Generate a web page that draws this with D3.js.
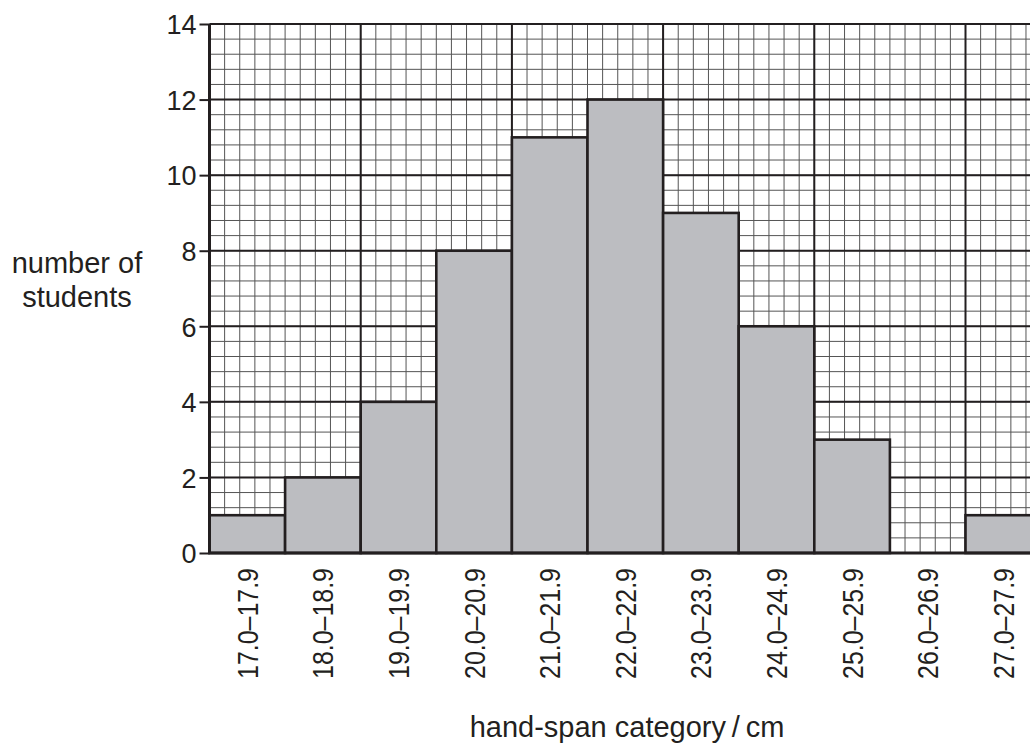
<!DOCTYPE html>
<html><head><meta charset="utf-8">
<script src="https://cdn.jsdelivr.net/npm/d3@7"></script>
<style>
html,body{margin:0;padding:0;background:#fff;overflow:hidden;}
text{font-family:"Liberation Sans",Arial,sans-serif;fill:#231f20;}
</style></head>
<body>
<svg id="chart" width="1030" height="743"></svg>
<script>
const categories = ["17.0–17.9","18.0–18.9","19.0–19.9","20.0–20.9","21.0–21.9","22.0–22.9","23.0–23.9","24.0–24.9","25.0–25.9","26.0–26.9","27.0–27.9"];
const lowerBounds = [17,18,19,20,21,22,23,24,25,26,27];
const counts = [1,2,4,8,11,12,9,6,3,0,1];
const yTicks = [0,2,4,6,8,10,12,14];
const yTitle = ["number of","students"];
const xTitle = "hand-span category\u2009/\u2009cm";

const svg = d3.select("#chart");
const x = d3.scaleLinear().domain([17,28]).range([209.5, 209.5+11*75.6]);
const y = d3.scaleLinear().domain([0,14]).range([553,24]);
const ink = "#231f20";

// grid
const g = svg.append("g");
const xMinor = d3.range(0, 56).map(i => 17 + i*0.2);
const yMinor = d3.range(0, 36).map(i => i*0.4);
g.selectAll("line.vx").data(xMinor).join("line")
  .attr("x1", d=>x(d)).attr("x2", d=>x(d)).attr("y1", y(14)).attr("y2", y(0))
  .attr("stroke", "#555").attr("stroke-width", 1);
g.selectAll("line.hy").data(yMinor).join("line")
  .attr("x1", x(17)).attr("x2", x(28)).attr("y1", d=>y(d)).attr("y2", d=>y(d))
  .attr("stroke", "#555").attr("stroke-width", 1);
const xMajor = [17,19,21,23,25,27];
g.selectAll("line.vmaj").data(xMajor).join("line")
  .attr("x1", d=>x(d)).attr("x2", d=>x(d)).attr("y1", y(14)).attr("y2", y(0))
  .attr("stroke", ink).attr("stroke-width", 2);
g.selectAll("line.hmaj").data(yTicks).join("line")
  .attr("x1", x(17)).attr("x2", x(28)).attr("y1", d=>y(d)).attr("y2", d=>y(d))
  .attr("stroke", ink).attr("stroke-width", 2);

// bars
svg.append("g").selectAll("rect").data(counts.map((c,i)=>({c, lo: lowerBounds[i]})).filter(d=>d.c>0)).join("rect")
  .attr("x", d=>x(d.lo)).attr("width", d=>x(d.lo+1)-x(d.lo))
  .attr("y", d=>y(d.c)).attr("height", d=>y(0)-y(d.c))
  .attr("fill", "#bcbdc1").attr("stroke", ink).attr("stroke-width", 2.6);

// axes
const yAxis = d3.axisLeft(y).tickValues(yTicks).tickSize(10).tickPadding(4).tickFormat(d3.format("d"));
const ya = svg.append("g").attr("transform", `translate(${x(17)},0)`).call(yAxis);
ya.select(".domain").attr("stroke", ink).attr("stroke-width", 3).attr("d", `M0,${y(14)}V${y(0)}`);
ya.selectAll(".tick line").attr("stroke", ink).attr("stroke-width", 2);
ya.selectAll(".tick text").attr("font-size", 27).attr("fill", ink)
  .attr("font-family", '"Liberation Sans",Arial,sans-serif').attr("dy", "0.36em").attr("x", -13);

svg.append("line").attr("x1", x(17)-1).attr("x2", 1030).attr("y1", y(0)).attr("y2", y(0))
  .attr("stroke", ink).attr("stroke-width", 3);

// x category labels (rotated)
svg.append("g").selectAll("text").data(categories).join("text")
  .attr("transform", (d,i)=>`translate(${(x(lowerBounds[i])+x(lowerBounds[i]+1))/2},568) rotate(-90)`)
  .attr("text-anchor", "end").attr("dy", "0.36em")
  .attr("font-size", 29).attr("textLength", 111).attr("lengthAdjust", "spacingAndGlyphs")
  .text(d=>d);

// titles
svg.append("g").selectAll("text").data(yTitle).join("text")
  .attr("x", 77).attr("y", (d,i)=>273+i*34).attr("text-anchor", "middle")
  .attr("font-size", 29).text(d=>d);
svg.append("text").attr("x", 627).attr("y", 737).attr("text-anchor", "middle")
  .attr("font-size", 29).text(xTitle);
</script>
</body></html>
